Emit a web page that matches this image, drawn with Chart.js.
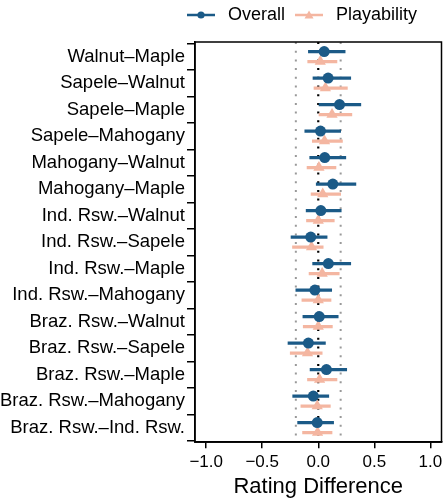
<!DOCTYPE html>
<html>
<head>
<meta charset="utf-8">
<script src="https://cdn.jsdelivr.net/npm/chart.js@4.4.1/dist/chart.umd.min.js"></script>
<style>
html, body { margin: 0; padding: 0; background: #fff; overflow: hidden; }
</style>
</head>
<body>
<canvas id="c" width="448" height="500"></canvas>
<script>
// wood pairs, top to bottom
const pairs = [
  'Walnut\u2013Maple', 'Sapele\u2013Walnut', 'Sapele\u2013Maple', 'Sapele\u2013Mahogany',
  'Mahogany\u2013Walnut', 'Mahogany\u2013Maple', 'Ind. Rsw.\u2013Walnut', 'Ind. Rsw.\u2013Sapele',
  'Ind. Rsw.\u2013Maple', 'Ind. Rsw.\u2013Mahogany', 'Braz. Rsw.\u2013Walnut', 'Braz. Rsw.\u2013Sapele',
  'Braz. Rsw.\u2013Maple', 'Braz. Rsw.\u2013Mahogany', 'Braz. Rsw.\u2013Ind. Rsw.'
];
const overallEst = [0.053, 0.088, 0.19, 0.02, 0.058, 0.13, 0.023, -0.067, 0.09, -0.03, 0.009, -0.088, 0.073, -0.044, -0.009];
const overallLo  = [-0.088, -0.047, 0.0, -0.12, -0.076, -0.018, -0.108, -0.243, -0.05, -0.2, -0.137, -0.27, -0.073, -0.228, -0.184];
const overallHi  = [0.24, 0.29, 0.38, 0.2, 0.246, 0.336, 0.205, 0.079, 0.29, 0.12, 0.178, 0.064, 0.254, 0.094, 0.137];
const playEst = [0.018, 0.064, 0.123, 0.056, 0.006, 0.04, 0.0, -0.06, 0.035, 0.0, 0.0, -0.096, 0.012, -0.009, -0.006];
const playLo  = [-0.094, -0.038, 0.0, -0.053, -0.1, -0.064, -0.105, -0.23, -0.082, -0.146, -0.134, -0.25, -0.096, -0.155, -0.14];
const playHi  = [0.167, 0.26, 0.30, 0.216, 0.158, 0.2, 0.143, 0.044, 0.187, 0.114, 0.126, 0.035, 0.167, 0.108, 0.123];
const xTicks = [-1.0, -0.5, 0.0, 0.5, 1.0];
const refLines = [-0.2, 0.0, 0.2];

const BLUE = '#1b5a87';
const PINK = '#f4b6a1';
const DODGE = 0.19;
const YMIN = -0.55, YMAX = 14.55;
const FONT = 'Liberation Sans, Arial, Helvetica, sans-serif';

function legendIcon(color, shape) {
  const c = document.createElement('canvas');
  c.width = 28; c.height = 14;
  const g = c.getContext('2d');
  g.strokeStyle = color; g.fillStyle = color; g.lineWidth = 2.5;
  g.beginPath(); g.moveTo(0, 7); g.lineTo(28, 7); g.stroke();
  g.beginPath();
  if (shape == 'circle') {
    g.arc(14, 7, 3.6, 0, Math.PI * 2);
  } else {
    g.moveTo(14, 2.5); g.lineTo(18.5, 10.5); g.lineTo(9.5, 10.5); g.closePath();
  }
  g.fill();
  return c;
}
const iconOverall = legendIcon(BLUE, 'circle');
const iconPlay = legendIcon(PINK, 'triangle');

// dotted reference lines
const refSets = refLines.map(function (v) {
  return {
    type: 'scatter',
    data: [{x: v, y: YMIN}, {x: v, y: YMAX}],
    showLine: true,
    borderColor: v == 0 ? '#000' : '#999',
    borderWidth: v == 0 ? 2.2 : 2,
    borderDash: [2, 6.7],
    pointRadius: 0,
    order: 5
  };
});

const borderPlugin = {
  id: 'panelBorder',
  beforeLayout(chart) {
    // extra room under the legend, like the ggplot original
    const lg = chart.legend;
    if (lg && !lg._padded) {
      const fit = lg.fit;
      lg.fit = function () { fit.call(this); this.height += 8; };
      lg._padded = true;
    }
  },
  afterLayout(chart) {
    // centre the legend over the panel instead of the whole canvas
    if (chart.legend) chart.legend.left = 154;
  },
  afterDraw(chart) {
    const a = chart.chartArea, g = chart.ctx;
    g.save();
    g.strokeStyle = '#000'; g.lineWidth = 1.5;
    g.strokeRect(a.left, a.top, a.right - a.left, a.bottom - a.top);
    g.restore();
  }
};

new Chart(document.getElementById('c'), {
  type: 'scatter',
  data: {
    datasets: [
      {
        label: 'Overall',
        data: overallEst.map((v, i) => ({x: v, y: i - DODGE})),
        backgroundColor: BLUE, borderColor: BLUE,
        pointStyle: 'circle', pointRadius: 5.5, borderWidth: 0,
        order: 0
      },
      {
        label: 'Playability',
        data: playEst.map((v, i) => ({x: v, y: i + DODGE})),
        backgroundColor: PINK, borderColor: PINK,
        pointStyle: 'triangle', pointRadius: 6.5, borderWidth: 0,
        order: 1
      },
      {
        type: 'bar', indexAxis: 'y', grouped: false,
        data: overallLo.map((v, i) => ({x: [v, overallHi[i]], y: i - DODGE})),
        backgroundColor: BLUE, borderWidth: 0, barThickness: 2.6,
        order: 2
      },
      {
        type: 'bar', indexAxis: 'y', grouped: false,
        data: playLo.map((v, i) => ({x: [v, playHi[i]], y: i + DODGE})),
        backgroundColor: PINK, borderWidth: 0, barThickness: 2.6,
        order: 3
      }
    ].concat(refSets)
  },
  options: {
    responsive: false,
    animation: false,
    devicePixelRatio: 1,
    layout: { padding: { left: 0, right: 2, top: 0, bottom: 0 } },
    plugins: {
      tooltip: { enabled: false },
      legend: {
        position: 'top',
        labels: {
          usePointStyle: true,
          pointStyleWidth: 36,
          padding: 6,
          color: '#000',
          font: { family: FONT, size: 18 },
          generateLabels: function () {
            return [
              {text: 'Overall', pointStyle: iconOverall, fillStyle: BLUE, strokeStyle: BLUE, lineWidth: 0, datasetIndex: 0},
              {text: 'Playability', pointStyle: iconPlay, fillStyle: PINK, strokeStyle: PINK, lineWidth: 0, datasetIndex: 1}
            ];
          }
        }
      }
    },
    scales: {
      x: {
        type: 'linear',
        min: -1.1, max: 1.1,
        afterBuildTicks: function (s) { s.ticks = xTicks.map(v => ({value: v})); },
        ticks: {
          color: '#000', padding: 5,
          font: { family: FONT, size: 17, lineHeight: 1.05 },
          callback: function (v) { return (v < 0 ? '\u2212' : '') + Math.abs(v).toFixed(1); }
        },
        grid: { drawOnChartArea: false, drawTicks: true, tickLength: 6, color: '#000', lineWidth: 1.5 },
        border: { display: true, color: '#000', width: 1.5 },
        title: {
          display: true, text: 'Rating Difference', color: '#000',
          font: { family: FONT, size: 22, lineHeight: 1.0 },
          padding: { top: 0, bottom: 2 }
        }
      },
      y: {
        type: 'linear',
        reverse: true,
        offset: false,
        min: YMIN, max: YMAX,
        afterBuildTicks: function (s) { s.ticks = pairs.map((p, i) => ({value: i})); },
        afterFit: function (s) { s.width = 195; },
        ticks: {
          color: '#000', padding: 2, autoSkip: false,
          font: { family: FONT, size: 18.5 },
          callback: function (v) { return pairs[v]; }
        },
        grid: { drawOnChartArea: false, drawTicks: true, tickLength: 8, color: '#000', lineWidth: 1.5 },
        border: { display: true, color: '#000', width: 1.5 }
      }
    }
  },
  plugins: [borderPlugin]
});
</script>
</body>
</html>
